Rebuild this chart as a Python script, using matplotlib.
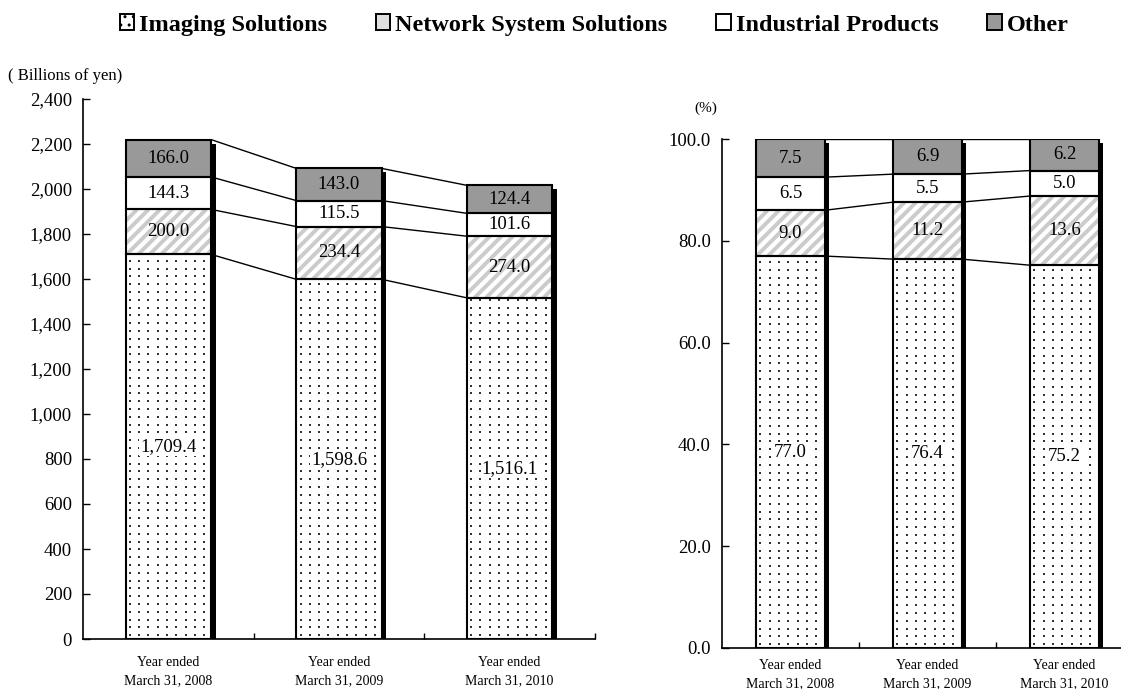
import matplotlib
matplotlib.use("Agg")
import numpy as np
import matplotlib.pyplot as plt
from matplotlib.patches import Patch
from matplotlib.collections import LineCollection
from matplotlib.transforms import ScaledTranslation, IdentityTransform
from matplotlib.ticker import FuncFormatter, FixedLocator

plt.rcParams["font.family"] = ["Liberation Serif", "DejaVu Serif"]

# ---- data ----
years = ["Year ended\nMarch 31, 2008", "Year ended\nMarch 31, 2009", "Year ended\nMarch 31, 2010"]
segments = ["Imaging Solutions", "Network System Solutions", "Industrial Products", "Other"]

sales_imaging = [1709.4, 1598.6, 1516.1]
sales_network = [200.0, 234.4, 274.0]
sales_industrial = [144.3, 115.5, 101.6]
sales_other = [166.0, 143.0, 124.4]

share_imaging = [77.0, 76.4, 75.2]
share_network = [9.0, 11.2, 13.6]
share_industrial = [6.5, 5.5, 5.0]
share_other = [7.5, 6.9, 6.2]

sales_labels = [["1,709.4", "1,598.6", "1,516.1"],
                ["200.0", "234.4", "274.0"],
                ["144.3", "115.5", "101.6"],
                ["166.0", "143.0", "124.4"]]
share_labels = [["77.0", "76.4", "75.2"],
                ["9.0", "11.2", "13.6"],
                ["6.5", "5.5", "5.0"],
                ["7.5", "6.9", "6.2"]]

STRIPE = "#cbcbcb"
OTHER_GRAY = "#999999"
EDGE_LW = 1.5
DOT_STEP_PX = (9.3, 7.8)   # spacing of the stipple texture in pixels
STRIPE_STEP_PX = 11.5      # horizontal period of the diagonal stripes


def rect_px(ax, rect):
    x0, y0 = rect.get_x(), rect.get_y()
    x1, y1 = x0 + rect.get_width(), y0 + rect.get_height()
    (px0, py0), (px1, py1) = ax.transData.transform([(x0, y0), (x1, y1)])
    return px0, py0, px1, py1


def stipple(ax, rect, step_px):
    """Fill a bar rectangle with a regular grid of small dots."""
    px0, py0, px1, py1 = rect_px(ax, rect)
    gx = np.arange(px0 + step_px[0] * 0.45, px1, step_px[0])
    gy = np.arange(py0 + step_px[1] * 0.5, py1, step_px[1])
    mx, my = np.meshgrid(gx, gy)
    pts = ax.transData.inverted().transform(np.column_stack([mx.ravel(), my.ravel()]))
    sc = ax.scatter(pts[:, 0], pts[:, 1], s=2.2, marker="s", color="#333333",
                    linewidths=0, zorder=2.5)
    sc.set_clip_path(rect)


def stripes(ax, rect, step_px):
    """Fill a bar rectangle with light diagonal stripes."""
    px0, py0, px1, py1 = rect_px(ax, rect)
    h = py1 - py0
    starts = np.arange(px0 - h - step_px, px1 + step_px, step_px)
    segs = [[(s, py0), (s + h, py1)] for s in starts]
    lc = LineCollection(segs, colors=STRIPE, linewidths=2.8, transform=IdentityTransform(),
                        zorder=2.5)
    ax.add_collection(lc, autolim=False)
    lc.set_clip_path(rect)


def draw_panel(ax, series, labels, width, ylim, yticks, yfmt, label_pad):
    x = list(range(len(years)))
    n = len(x)
    ax.set_xlim(-0.5, n - 0.5)
    ax.set_ylim(*ylim)
    bottoms = [0.0] * n
    tops_per_layer = []
    # drop shadow behind each full stack
    totals = [sum(s[i] for s in series) for i in range(n)]
    shadow_tr = ax.transData + ScaledTranslation(4.5 / 100, -4 / 100, ax.figure.dpi_scale_trans)
    ax.bar(x, totals, width=width, color="black", linewidth=0, transform=shadow_tr, zorder=1)

    for k, vals in enumerate(series):
        face = OTHER_GRAY if k == 3 else "white"
        bars = ax.bar(x, vals, width=width, bottom=bottoms, facecolor=face,
                      linewidth=0, zorder=2)
        if k == 0:
            for r in bars:
                stipple(ax, r, DOT_STEP_PX)
        elif k == 1:
            for r in bars:
                stripes(ax, r, STRIPE_STEP_PX)
        # outline
        ax.bar(x, vals, width=width, bottom=bottoms, fill=False,
               edgecolor="black", linewidth=EDGE_LW, zorder=3)
        for i in range(n):
            yc = bottoms[i] + vals[i] / 2
            if k == 0:
                ax.text(x[i], yc, labels[k][i], ha="center", va="center", fontsize=13.5,
                        zorder=5, bbox=dict(boxstyle="square,pad=0.05", fc="white", ec="none"))
            else:
                ax.text(x[i], yc, labels[k][i], ha="center", va="center", fontsize=13.5, zorder=5)
        bottoms = [bottoms[i] + vals[i] for i in range(n)]
        tops_per_layer.append(list(bottoms))

    # connector lines between neighbouring stacks
    for tops in tops_per_layer:
        for i in range(n - 1):
            ax.plot([x[i] + width / 2, x[i + 1] - width / 2], [tops[i], tops[i + 1]],
                    color="black", linewidth=1.0, zorder=4, solid_capstyle="butt")

    ax.set_yticks(yticks)
    ax.yaxis.set_major_formatter(FuncFormatter(yfmt))
    ax.xaxis.set_major_locator(FixedLocator([0.5, 1.5, 2.5]))
    ax.xaxis.set_minor_locator(FixedLocator(x))
    ax.set_xticklabels([], minor=False)
    ax.set_xticklabels(years, minor=True, fontsize=10, linespacing=1.55)
    ax.tick_params(axis="x", which="major", direction="in", length=4, width=1)
    ax.tick_params(axis="x", which="minor", length=0, pad=label_pad)
    ax.tick_params(axis="y", direction="in", length=5, width=1, labelsize=13.5, pad=8)
    for s in ("top", "right"):
        ax.spines[s].set_visible(False)
    for s in ("left", "bottom"):
        ax.spines[s].set_linewidth(1.2)


fig = plt.figure(figsize=(11.21, 6.89), dpi=100)

ax1 = fig.add_axes([83 / 1121, 50 / 689, 512 / 1121, 540 / 689])
draw_panel(ax1, [sales_imaging, sales_network, sales_industrial, sales_other], sales_labels,
           0.5, (0, 2400), list(range(0, 2401, 200)), lambda v, p: f"{v:,.0f}", 12)

ax2 = fig.add_axes([722 / 1121, 41 / 689, 411 / 1121, 509 / 689])
draw_panel(ax2, [share_imaging, share_network, share_industrial, share_other], share_labels,
           0.5, (0, 100), list(range(0, 101, 20)), lambda v, p: f"{v:.1f}", 8)

fig.text(8 / 1121, 1 - 76 / 689, "( Billions of yen)", fontsize=12, va="center", ha="left")
fig.text(706 / 1121, 1 - 108 / 689, "(%)", fontsize=11, va="center", ha="center")

# legend
with plt.rc_context({"hatch.linewidth": 0.6}):
    handles = [
        Patch(facecolor="white", edgecolor="black", hatch="..", linewidth=1.4),
        Patch(facecolor="#e0e0e0", edgecolor="black", linewidth=1.4),
        Patch(facecolor="white", edgecolor="black", linewidth=1.4),
        Patch(facecolor=OTHER_GRAY, edgecolor="black", linewidth=1.4),
    ]
fig.legend(handles, segments, loc="center", bbox_to_anchor=(594 / 1121, 1 - 25 / 689),
           ncol=4, frameon=False, prop={"weight": "bold", "size": 17.5},
           handlelength=0.6, handleheight=0.6, handletextpad=0.2, columnspacing=2.0)

fig.savefig("out.png", dpi=100)
